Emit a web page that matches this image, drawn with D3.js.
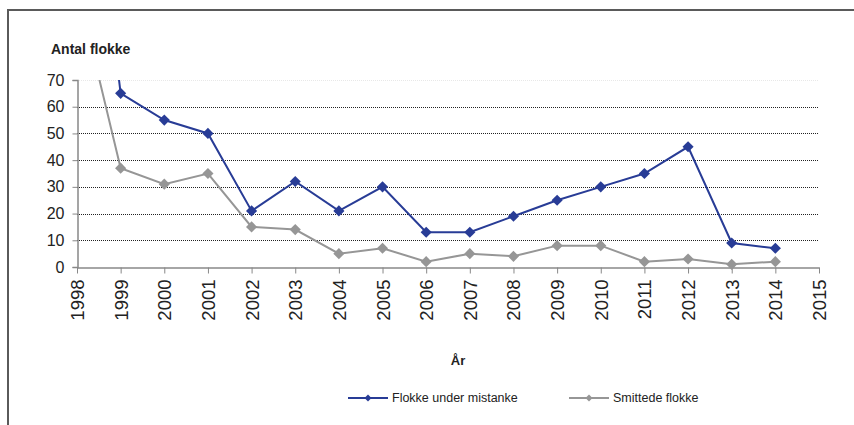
<!DOCTYPE html>
<html>
<head>
<meta charset="utf-8">
<script src="https://cdn.jsdelivr.net/npm/d3@7"></script>
<style>
  body { margin: 0; background: #fff; }
  svg { display: block; font-family: "Liberation Sans", Arial, sans-serif; }
</style>
</head>
<body>
<div class="chart"></div>
<script>
const width = 854;
const height = 425;

// data
const years = [1998, 1999, 2000, 2001, 2002, 2003, 2004, 2005, 2006, 2007, 2008, 2009, 2010, 2011, 2012, 2013, 2014];
const underMistanke = [200, 65, 55, 50, 21, 32, 21, 30, 13, 13, 19, 25, 30, 35, 45, 9, 7];
const smittede = [105, 37, 31, 35, 15, 14, 5, 7, 2, 5, 4, 8, 8, 2, 3, 1, 2];
const seriesNames = ["Flokke under mistanke", "Smittede flokke"];
const seriesColors = ["#283c96", "#969696"];
const xTicks = d3.range(1998, 2016);
const yTicks = [0, 10, 20, 30, 40, 50, 60, 70];

const plot = { left: 77, right: 819, top: 80, bottom: 267 };

const svg = d3
  .select(".chart")
  .append("svg")
  .attr("width", width)
  .attr("height", height);

// outer frame (runs off the right and bottom edge)
svg.append("rect")
  .attr("x", 8)
  .attr("y", 10)
  .attr("width", 900)
  .attr("height", 500)
  .attr("fill", "none")
  .attr("stroke", "#5a5a5a")
  .attr("stroke-width", 2);

const xScale = d3.scaleLinear()
  .domain([1998, 2015])
  .range([plot.left, plot.right]);

const yScale = d3.scaleLinear()
  .domain([0, 70])
  .range([plot.bottom, plot.top]);

// gridlines
svg.append("g")
  .selectAll("line")
  .data(yTicks.filter(d => d > 0))
  .enter().append("line")
    .attr("x1", plot.left)
    .attr("x2", plot.right)
    .attr("y1", d => Math.round(yScale(d)) + 0.5)
    .attr("y2", d => Math.round(yScale(d)) + 0.5)
    .attr("stroke", d => d === 70 ? "#e8e8e8" : "#222")
    .attr("stroke-dasharray", "1,1");

// y axis
const yAxis = svg.append("g")
  .attr("transform", `translate(${plot.left + 0.5},0)`)
  .call(d3.axisLeft(yScale).tickValues(yTicks).tickSize(5).tickPadding(8));
yAxis.select(".domain").attr("stroke", "#888").attr("stroke-width", 1.5);
yAxis.selectAll(".tick line").attr("stroke", "#888");
yAxis.selectAll(".tick text")
  .attr("font-size", 16)
  .attr("fill", "#222")
  .attr("font-family", "Liberation Sans, Arial, sans-serif");

// x axis
const xAxis = svg.append("g")
  .attr("transform", `translate(0,${plot.bottom + 0.5})`)
  .call(d3.axisBottom(xScale).tickValues(xTicks).tickFormat(d3.format("d")).tickSize(6).tickSizeOuter(0));
xAxis.select(".domain").attr("stroke", "#888").attr("stroke-width", 1.5);
xAxis.selectAll(".tick line").attr("stroke", "#888");
xAxis.selectAll(".tick text")
  .attr("font-size", 18.5)
  .attr("fill", "#222")
  .attr("font-family", "Liberation Sans, Arial, sans-serif")
  .attr("text-anchor", "end")
  .attr("transform", "translate(0,12) rotate(-90)")
  .attr("x", 0)
  .attr("y", 0)
  .attr("dy", "0.35em");

// clip so the 1998 values run out of the top of the plot
svg.append("clipPath")
  .attr("id", "plot-clip")
  .append("rect")
    .attr("x", plot.left)
    .attr("y", plot.top)
    .attr("width", plot.right - plot.left)
    .attr("height", plot.bottom - plot.top + 10);

const series = [underMistanke, smittede];
const line = d3.line()
  .x((d, i) => xScale(years[i]))
  .y(d => yScale(d));

const diamond = d3.symbol().type(d3.symbolSquare).size(62);

const lines = svg.append("g").attr("clip-path", "url(#plot-clip)");

// draw gray first so blue sits on top
[1, 0].forEach(s => {
  lines.append("path")
    .datum(series[s])
    .attr("fill", "none")
    .attr("stroke", seriesColors[s])
    .attr("stroke-width", 2)
    .attr("d", line);

  lines.selectAll(".marker-" + s)
    .data(series[s])
    .enter().append("path")
      .attr("class", "marker-" + s)
      .attr("d", diamond)
      .attr("fill", seriesColors[s])
      .attr("transform", (d, i) => `translate(${xScale(years[i])},${yScale(d)}) rotate(45)`);
});

// axis titles
svg.append("text")
  .text("Antal flokke")
  .attr("x", 51)
  .attr("y", 54)
  .attr("font-size", 14)
  .attr("font-weight", "bold")
  .attr("fill", "#222");

svg.append("text")
  .text("År")
  .attr("x", 458)
  .attr("y", 365)
  .attr("text-anchor", "middle")
  .attr("font-size", 13)
  .attr("font-weight", "bold")
  .attr("fill", "#222");

// legend
const legendX = [348, 569];
const legend = svg.append("g");
seriesNames.forEach((name, s) => {
  const g = legend.append("g")
    .attr("transform", `translate(${legendX[s]},398)`);
  g.append("line")
    .attr("x1", 0)
    .attr("x2", 40)
    .attr("stroke", seriesColors[s])
    .attr("stroke-width", 2);
  g.append("path")
    .attr("d", d3.symbol().type(d3.symbolSquare).size(24))
    .attr("transform", "translate(20,0) rotate(45)")
    .attr("fill", seriesColors[s]);
  g.append("text")
    .text(name)
    .attr("x", 44)
    .attr("dy", "0.35em")
    .attr("font-size", 12.5)
    .attr("fill", "#222");
});
</script>
</body>
</html>
